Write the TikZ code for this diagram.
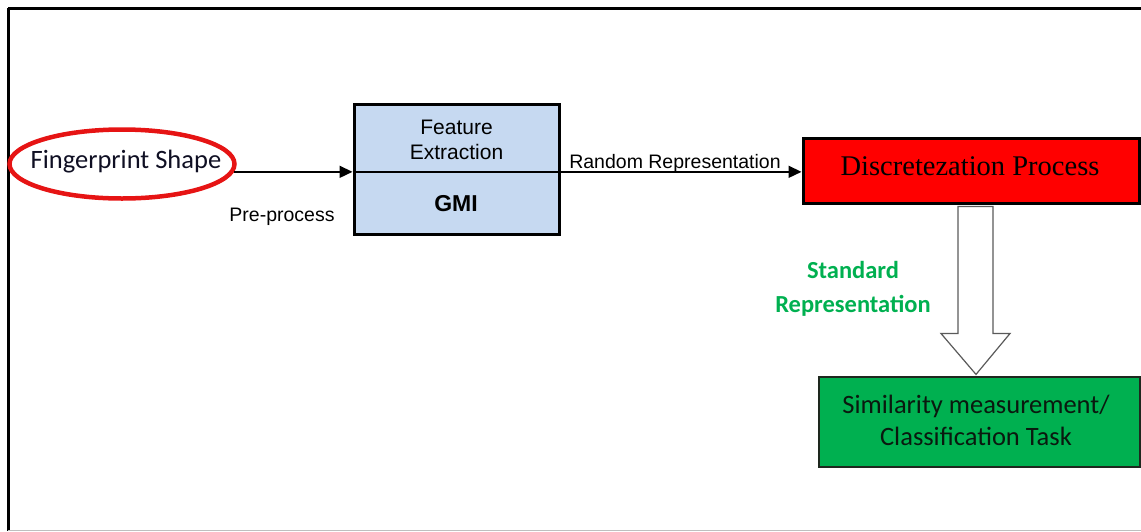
\documentclass[tikz,border=0pt]{standalone}
\usepackage{fontspec}
\setmainfont{Liberation Sans}
\newfontfamily\fcarl{Carlito}
\newfontfamily\farial{Liberation Sans}
\newfontfamily\fserif{Liberation Serif}
\usetikzlibrary{shapes.geometric,arrows.meta,calc}
\definecolor{boxblue}{RGB}{198,217,241}
\definecolor{boxred}{RGB}{255,0,0}
\definecolor{boxgreen}{RGB}{0,176,80}
\definecolor{txtgreen}{RGB}{0,176,80}
\tikzset{
  arr/.style={draw=black, line width=1.6pt, -{Triangle[length=13pt,width=12pt]}},
  ovalnode/.style={ellipse, draw={rgb,255:red,230;green,20;blue,20}, line width=4.5pt, minimum width=225pt, minimum height=69pt, inner sep=0pt},
  bluebox/.style={rectangle, draw=black, line width=3pt, fill=boxblue, minimum width=205pt, minimum height=130pt, inner sep=0pt},
  redbox/.style={rectangle, draw=black, line width=3pt, fill=boxred, minimum width=336pt, minimum height=65pt, inner sep=0pt},
  greenbox/.style={rectangle, draw={rgb,255:red,30;green,40;blue,30}, line width=1.2pt, fill=boxgreen, minimum width=321pt, minimum height=90pt, inner sep=0pt},
  lbl/.style={font=\farial\fontsize{19.5}{23}\selectfont, inner sep=0pt, text=black},
  blockarrow/.style={draw={rgb,255:red,90;green,90;blue,90}, line width=1.2pt, fill=white, line join=miter},
}
\begin{document}
\begin{tikzpicture}[x=1pt,y=-1pt]
\useasboundingbox (0,0) rectangle (1141,531);
% frame
\draw[line width=3pt, black] (8,8) -- (1141,8);
\draw[line width=3pt, black] (8,8) -- (8,531);
\draw[line width=1pt, black!25] (8,530) -- (1141,530);

% nodes
\node[ovalnode] (fp) at (122,164) {};
\node[font=\fcarl\fontsize{26.5}{30}\selectfont, text={rgb,255:red,15;green,15;blue,35}, inner sep=0pt] (fpt) at (126,162) {Fingerprint Shape};

\node[bluebox] (fe) at (456.5,169) {};
\node[font=\farial\fontsize{21}{25}\selectfont, align=center, inner sep=0pt] (fet) at (456.5,139.5) {Feature\\Extraction};
\node[font=\farial\bfseries\fontsize{23}{27}\selectfont, inner sep=0pt] (gmi) at (456,204) {GMI};

\node[redbox] (rp) at (971,170.5) {};
\node[font=\fserif\fontsize{28.5}{32}\selectfont, inner sep=0pt] (rpt) at (970,166) {Discretezation Process};

\node[greenbox] (sim) at (979.5,422) {};
\node[font=\fcarl\fontsize{26.5}{32}\selectfont, align=center, inner sep=0pt, text={rgb,255:red,10;green,25;blue,15}] (simt) at (976,420) {Similarity measurement/\\Classification Task};

% labels
\node[lbl] (pre) at (282,217) {Pre-process};
\node[lbl] (rand) at (675,163) {Random Representation};
\node[font=\fcarl\bfseries\fontsize{24.5}{34}\selectfont, align=center, text=txtgreen, inner sep=0pt] (std) at (853,289) {Standard\\Representation};

% connectors
\coordinate (ln) at (fp.-4);
\draw[arr] (ln) -- (ln -| fe.west);
\draw[arr] (ln -| fe.west) -- (ln -| rp.west);

% block arrow from rp to sim
\coordinate (bt) at ($(rp.south)+(4.5,2)$);
\coordinate (bb) at ($(sim.north)+(-3.5,-2)$);
\draw[blockarrow] ($(bt)+(-17.5,0)$) -- ($(bt)+(17.5,0)$) -- ($(bt)+(17.5,127)$) -- ($(bt)+(34.5,127)$)
  -- (bb) -- ($(bt)+(-34.5,127)$) -- ($(bt)+(-17.5,127)$) -- cycle;
\end{tikzpicture}
\end{document}
